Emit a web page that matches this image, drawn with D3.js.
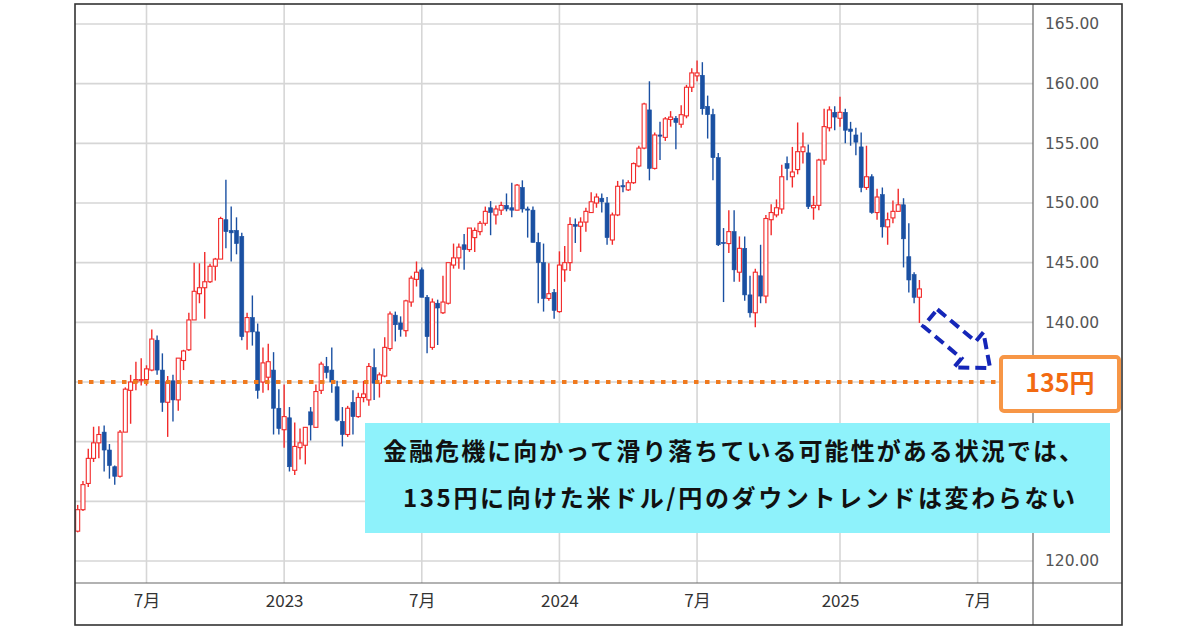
<!DOCTYPE html>
<html><head><meta charset="utf-8">
<script src="https://cdn.jsdelivr.net/npm/d3@7"></script>
<style>body{margin:0;background:#fff;} svg{display:block}</style>
</head><body>
<svg id="c" width="1200" height="630"></svg>
<script>
// ---- data (weekly USD/JPY candles) ----
const weeks = [
"2022-04-04","2022-04-11","2022-04-18","2022-04-25","2022-05-02","2022-05-09","2022-05-16","2022-05-23","2022-05-30","2022-06-06",
"2022-06-13","2022-06-20","2022-06-27","2022-07-04","2022-07-11","2022-07-18","2022-07-25","2022-08-01","2022-08-08","2022-08-15",
"2022-08-22","2022-08-29","2022-09-05","2022-09-12","2022-09-19","2022-09-26","2022-10-03","2022-10-10","2022-10-17","2022-10-24",
"2022-10-31","2022-11-07","2022-11-14","2022-11-21","2022-11-28","2022-12-05","2022-12-12","2022-12-19","2022-12-26","2023-01-02",
"2023-01-09","2023-01-16","2023-01-23","2023-01-30","2023-02-06","2023-02-13","2023-02-20","2023-02-27","2023-03-06","2023-03-13",
"2023-03-20","2023-03-27","2023-04-03","2023-04-10","2023-04-17","2023-04-24","2023-05-01","2023-05-08","2023-05-15","2023-05-22",
"2023-05-29","2023-06-05","2023-06-12","2023-06-19","2023-06-26","2023-07-03","2023-07-10","2023-07-17","2023-07-24","2023-07-31",
"2023-08-07","2023-08-14","2023-08-21","2023-08-28","2023-09-04","2023-09-11","2023-09-18","2023-09-25","2023-10-02","2023-10-09",
"2023-10-16","2023-10-23","2023-10-30","2023-11-06","2023-11-13","2023-11-20","2023-11-27","2023-12-04","2023-12-11","2023-12-18",
"2023-12-25","2024-01-01","2024-01-08","2024-01-15","2024-01-22","2024-01-29","2024-02-05","2024-02-12","2024-02-19","2024-02-26",
"2024-03-04","2024-03-11","2024-03-18","2024-03-25","2024-04-01","2024-04-08","2024-04-15","2024-04-22","2024-04-29","2024-05-06",
"2024-05-13","2024-05-20","2024-05-27","2024-06-03","2024-06-10","2024-06-17","2024-06-24","2024-07-01","2024-07-08","2024-07-15",
"2024-07-22","2024-07-29","2024-08-05","2024-08-12","2024-08-19","2024-08-26","2024-09-02","2024-09-09","2024-09-16","2024-09-23",
"2024-09-30","2024-10-07","2024-10-14","2024-10-21","2024-10-28","2024-11-04","2024-11-11","2024-11-18","2024-11-25","2024-12-02",
"2024-12-09","2024-12-16","2024-12-23","2024-12-30","2025-01-06","2025-01-13","2025-01-20","2025-01-27","2025-02-03","2025-02-10",
"2025-02-17","2025-02-24","2025-03-03","2025-03-10","2025-03-17","2025-03-24","2025-03-31","2025-04-07","2025-04-14","2025-04-21"];
const open = [
122.5,124.3,126.5,128.6,129.9,130.8,129.3,127.9,127.1,130.8,
134.3,135.0,135.1,135.2,136.0,138.5,136.0,133.3,135.1,133.5,
136.8,137.7,140.2,142.4,142.9,143.4,144.7,145.3,148.6,147.7,
147.7,147.2,139.2,140.4,139.2,135.0,135.4,136.0,132.8,131.0,
132.0,127.6,129.5,129.7,132.5,131.2,134.3,136.3,136.0,134.6,
131.7,130.6,133.3,132.1,133.7,133.5,136.2,134.9,135.5,137.8,
140.6,139.95,139.3,141.7,143.6,144.4,142.1,137.9,141.6,140.8,
141.6,144.8,145.4,146.5,146.1,147.1,147.6,148.3,149.6,149.0,
149.4,149.8,149.6,149.4,151.3,149.5,149.4,146.7,145.0,142.0,
142.5,140.9,144.4,145.0,148.2,148.05,148.4,149.2,150.0,150.4,
150.0,146.9,149.0,151.45,151.1,151.7,153.1,154.6,157.8,152.9,
155.7,155.5,157.0,157.1,156.6,157.3,159.7,160.65,160.7,158.1,
157.4,153.8,146.7,146.6,147.6,144.2,146.2,142.3,140.8,143.9,
142.2,148.6,149.0,149.5,153.3,152.2,152.8,154.3,154.2,149.6,
149.8,153.6,156.3,157.6,157.1,157.6,156.2,155.7,154.7,151.3,
152.2,149.2,150.7,148.0,148.75,149.3,149.85,145.5,144.0,142.1];
const high = [
124.7,126.7,129.4,131.25,131.3,131.35,129.8,128.0,130.98,134.55,
135.6,136.7,137.0,136.4,139.4,138.9,137.4,135.5,135.6,137.0,
137.7,140.8,144.99,144.95,145.9,144.9,145.4,148.85,151.95,149.7,
148.8,147.5,140.8,142.25,139.9,137.9,138.2,137.5,134.4,134.8,
132.9,131.6,131.1,131.2,132.9,134.8,136.7,137.1,137.9,135.1,
132.9,133.0,134.3,134.1,135.1,136.6,137.8,135.8,138.75,140.9,
140.9,140.5,141.9,143.9,145.1,144.6,142.3,142.0,141.9,143.9,
144.9,146.6,146.6,147.4,147.9,147.95,148.5,149.7,150.16,149.8,
150.1,150.8,151.7,151.6,151.9,149.7,149.7,147.5,146.6,144.95,
142.8,145.95,146.4,148.8,148.7,148.8,149.6,150.9,150.8,150.8,
150.5,149.2,151.85,151.97,151.9,153.4,154.8,158.4,160.2,155.9,
156.8,157.2,157.7,157.3,158.2,159.9,161.3,161.95,161.8,159.0,
157.9,154.2,147.9,149.4,149.4,147.2,147.2,143.9,144.5,146.5,
149.0,149.9,150.3,153.2,153.9,154.7,156.75,155.9,154.9,150.6,
153.7,157.9,158.1,158.1,158.9,157.9,156.8,156.3,155.9,154.8,
152.4,151.2,151.3,149.2,150.2,151.2,150.4,148.3,144.2,143.55];
const low = [
122.4,124.2,126.2,128.3,128.6,127.5,126.9,126.4,127.0,130.8,
131.5,134.3,134.7,134.7,135.9,135.6,132.5,130.4,131.7,132.6,
136.0,137.6,140.2,141.6,140.3,143.3,143.5,145.3,146.2,145.1,
145.7,138.5,137.7,138.05,133.6,134.1,134.3,130.6,130.6,129.5,
127.5,127.2,128.5,128.1,130.1,131.2,134.0,135.3,134.1,131.7,
129.6,130.4,130.6,132.0,133.3,133.0,133.5,133.7,135.4,137.6,
138.4,138.8,138.8,141.3,143.0,142.1,137.4,137.7,138.1,140.7,
141.5,144.5,144.5,144.4,145.9,145.9,147.3,148.1,147.3,148.2,
149.0,149.3,148.8,149.4,149.2,147.1,146.7,141.6,140.9,141.8,
140.3,140.8,143.4,144.3,146.65,145.9,147.6,149.2,149.6,149.2,
146.5,146.5,148.9,150.9,151.0,151.6,153.0,154.5,151.9,152.8,
153.6,155.2,156.4,154.5,156.3,157.1,159.3,160.2,157.4,155.4,
151.9,146.4,141.7,145.8,143.4,143.4,141.8,140.4,139.58,141.6,
141.6,147.3,148.8,149.1,151.9,151.3,152.4,153.3,149.5,148.6,
149.4,153.2,156.0,156.1,156.4,155.0,154.8,154.0,150.9,151.1,
149.1,148.6,147.1,146.5,148.3,149.3,144.6,142.5,141.6,139.95];
const close = [
124.3,126.4,128.6,129.9,130.6,129.3,128.0,127.1,130.8,134.4,
135.0,135.2,135.2,136.1,138.6,136.0,133.3,135.0,133.5,137.0,
137.6,140.2,142.6,142.9,143.4,144.7,145.3,148.7,147.6,147.5,
146.6,138.8,140.4,139.2,134.3,136.6,136.7,132.8,131.1,132.1,
127.9,129.6,129.9,131.2,131.4,134.2,136.5,135.8,135.0,131.8,
130.6,132.8,132.1,133.7,134.0,136.3,134.9,135.6,137.9,140.7,
139.8,139.4,141.8,143.7,144.2,142.1,138.8,141.7,141.2,141.7,
145.0,145.4,146.3,146.1,147.9,147.7,148.3,149.3,149.2,149.5,
149.8,149.5,149.4,151.5,149.5,149.4,146.7,145.0,142.0,142.4,
141.0,144.8,145.0,148.2,148.05,148.4,149.3,150.1,150.5,150.1,
147.1,149.0,151.4,151.35,151.7,153.3,154.6,158.3,152.9,155.7,
155.6,157.05,157.2,156.75,157.4,159.7,160.9,160.9,157.9,157.4,
153.8,146.5,146.6,147.6,144.4,146.2,142.3,140.8,144.2,142.2,
148.7,149.2,149.6,152.2,152.9,152.6,154.3,154.7,149.7,149.8,
153.6,156.4,157.8,157.2,157.6,156.1,156.0,155.1,151.3,152.2,
149.2,150.5,148.0,148.6,149.3,149.85,147.0,143.55,142.1,142.8];

const priceGrid = [120,125,130,135,140,145,150,155,160,165];
const priceLabels = [120,140,145,150,155,160,165]; // 125-135 are hidden behind the boxes
const timeTickDates = ["2022-07-04","2023-01-02","2023-07-03","2024-01-01","2024-07-01","2025-01-06","2025-07-07"];
const timeTickLabels = ["7月","2023","7月","2024","7月","2025","7月"];
const targetLevel = 135;
const targetLabel = "135円";
const noteLines = ["金融危機に向かって滑り落ちている可能性がある状況では、","135円に向けた米ドル/円のダウントレンドは変わらない"];

// ---- drawing ----
const parse = d3.utcParse("%Y-%m-%d");
const data = weeks.map((w,i)=>({d:parse(w),o:open[i],h:high[i],l:low[i],c:close[i]}));
const svg = d3.select("#c");
const L=75, R=1033, T=4, B=583, RR=1122, BB=625;

const x = d3.scaleUtc().domain([parse("2022-07-04"), parse("2025-01-06")]).range([146.5, 840]);
const y = d3.scaleLinear().domain([120,165]).range([561,24]);

svg.append("rect").attr("width",1200).attr("height",630).attr("fill","#fff");
svg.append("defs").append("clipPath").attr("id","plot")
  .append("rect").attr("x",L).attr("y",T).attr("width",R-L).attr("height",B-T);

// grid
const grid = svg.append("g");
grid.selectAll("line.h").data(priceGrid).join("line")
  .attr("x1",L).attr("x2",R).attr("y1",d=>y(d)).attr("y2",d=>y(d))
  .attr("stroke","#d6d6d6").attr("stroke-width",1.6);
grid.selectAll("line.v").data(timeTickDates).join("line")
  .attr("x1",d=>x(parse(d))).attr("x2",d=>x(parse(d))).attr("y1",T).attr("y2",B)
  .attr("stroke","#d6d6d6").attr("stroke-width",1.6);

// candles
const up="#f22a2a", dn="#1a50a2";
const cg = svg.append("g").attr("clip-path","url(#plot)");
const bw = 4;
const cs = cg.selectAll("g").data(data).join("g");
cs.append("line").attr("x1",d=>x(d.d)).attr("x2",d=>x(d.d))
  .attr("y1",d=>y(d.h)).attr("y2",d=>y(d.l))
  .attr("stroke",d=>d.c>=d.o?up:dn).attr("stroke-width",1.4);
cs.append("rect")
  .attr("x",d=>x(d.d)-bw/2).attr("width",bw)
  .attr("y",d=>y(Math.max(d.o,d.c)))
  .attr("height",d=>Math.max(1,Math.abs(y(d.o)-y(d.c))))
  .attr("fill",d=>d.c>=d.o?"#fff":dn)
  .attr("stroke",d=>d.c>=d.o?up:dn).attr("stroke-width",d=>d.c>=d.o?1.1:0.6);

// axes frame
svg.append("line").attr("x1",R).attr("x2",R).attr("y1",T).attr("y2",BB).attr("stroke","#666").attr("stroke-width",1.2);
svg.append("line").attr("x1",L).attr("x2",RR).attr("y1",B).attr("y2",B).attr("stroke","#666").attr("stroke-width",1.2);
svg.append("rect").attr("x",L).attr("y",T).attr("width",RR-L).attr("height",BB-T)
  .attr("fill","none").attr("stroke","#333").attr("stroke-width",1.6);

// y axis labels
const ya = svg.append("g").attr("transform",`translate(${R},0)`)
  .call(d3.axisRight(y).tickValues(priceLabels).tickFormat(d3.format(".2f")).tickSize(0).tickPadding(12));
ya.select(".domain").remove();
ya.selectAll("text").attr("font-family","DejaVu Sans").attr("font-size",15.5).attr("fill","#555");

// x axis labels
const xa = svg.append("g").attr("transform",`translate(0,${B})`)
  .call(d3.axisBottom(x).tickValues(timeTickDates.map(parse))
    .tickFormat((d,i)=>timeTickLabels[i]).tickSize(0).tickPadding(12));
xa.select(".domain").remove();
xa.selectAll("text").attr("font-family","Noto Sans CJK JP").attr("font-size",17).attr("fill","#333");

// dotted target line
svg.append("line").attr("x1",78).attr("x2",1000).attr("y1",y(targetLevel)).attr("y2",y(targetLevel))
  .attr("stroke","#f07a1e").attr("stroke-width",4).attr("stroke-dasharray","4.5 6.5");

// arrow (dashed outline)
const ap = [[0,-11],[50,-11],[50,-23],[78,0],[50,23],[50,11],[0,11]];
svg.append("path")
  .attr("d", d3.line()(ap) + "Z")
  .attr("transform","translate(930.3,317.8) rotate(40)")
  .attr("fill","none").attr("stroke","#1526b8").attr("stroke-width",4)
  .attr("stroke-dasharray","11 6").attr("stroke-linejoin","miter");

// target box
svg.append("rect").attr("x",1001).attr("y",357).attr("width",118).attr("height",54).attr("rx",3)
  .attr("fill","#fff").attr("stroke","#f79646").attr("stroke-width",4);
svg.append("text").attr("x",1060).attr("y",392).attr("text-anchor","middle")
  .attr("font-family","Noto Sans CJK JP").attr("font-weight","bold").attr("font-size",25)
  .attr("fill","#f26a12").text(targetLabel);

// note box
svg.append("rect").attr("x",365).attr("y",423).attr("width",745).attr("height",110).attr("fill","#8ef2fb");
const nt = svg.append("g").attr("font-family","Noto Sans CJK JP").attr("font-weight","bold").attr("font-size",24).attr("fill","#111");
nt.append("text").attr("x",383).attr("y",460).attr("textLength",700).attr("lengthAdjust","spacing").text(noteLines[0]);
nt.append("text").attr("x",403).attr("y",507).attr("textLength",672).attr("lengthAdjust","spacing").text(noteLines[1]);
</script>
</body></html>
